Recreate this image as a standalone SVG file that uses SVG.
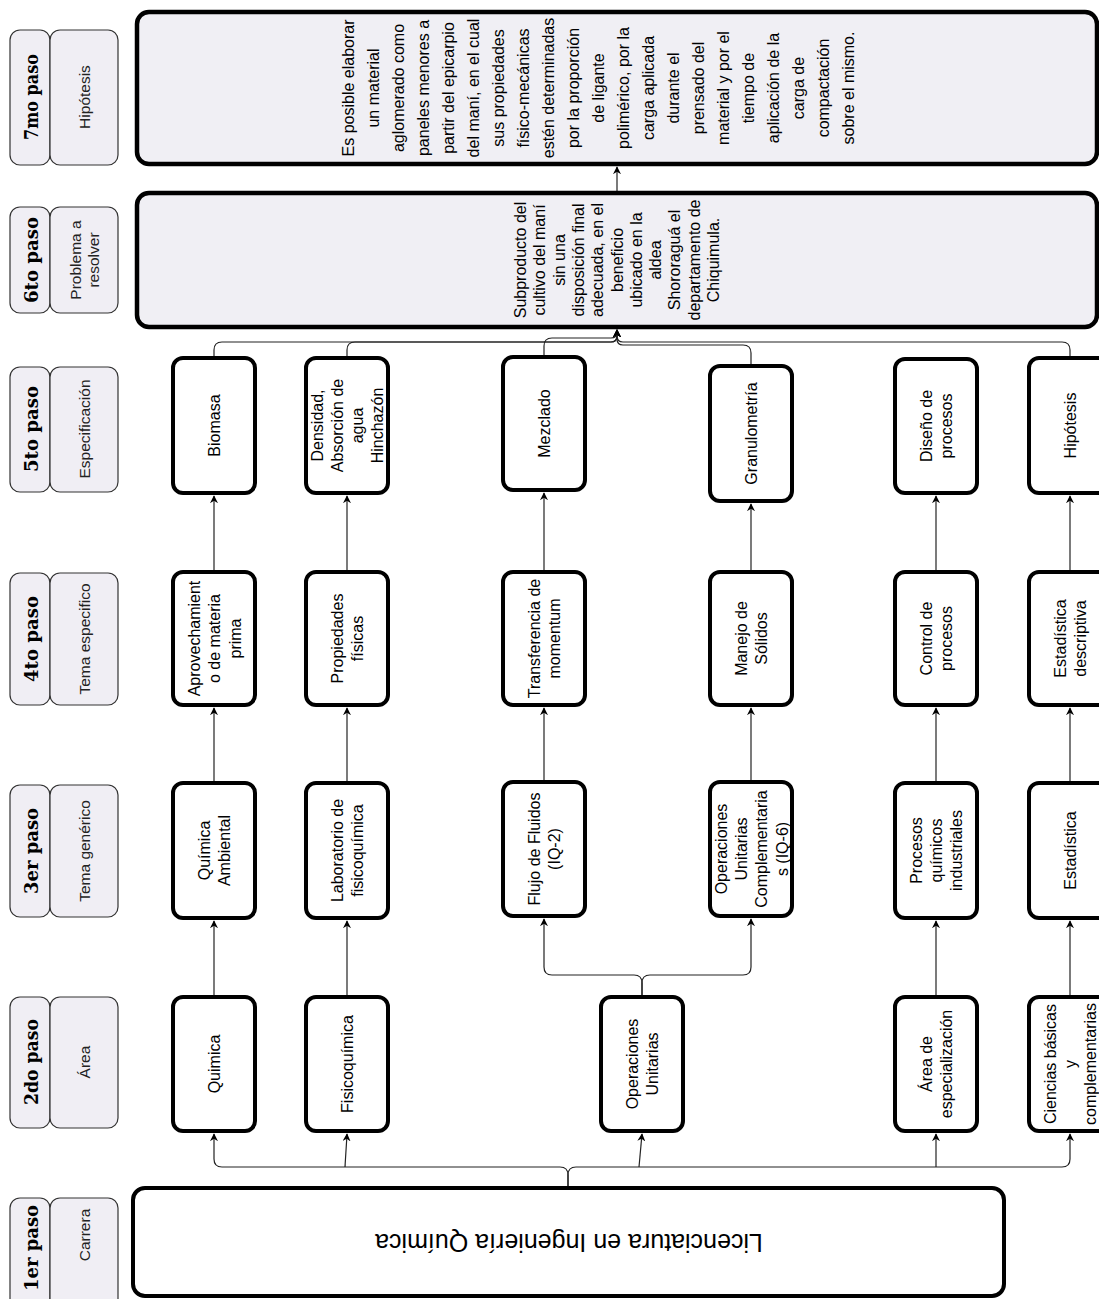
<svg xmlns="http://www.w3.org/2000/svg" width="1099" height="1299" viewBox="0 0 1099 1299">
<defs>
<marker id="arr" viewBox="0 0 10 10" refX="9" refY="5" markerWidth="8" markerHeight="8" markerUnits="userSpaceOnUse" orient="auto">
<path d="M0,0 L10,5 L0,10 L3,5 z" fill="#000"/>
</marker>
<style>
.node{fill:#fff;stroke:#000;stroke-width:4}
.big{fill:#f0eff4;stroke:#000;stroke-width:4.5}
.lab{fill:#f0eef4;stroke:#333;stroke-width:1.2}
.t{font-family:"Liberation Sans",Arial,sans-serif;font-size:16px;fill:#000;text-anchor:middle;dominant-baseline:central}
.lt{font-family:"Liberation Sans",Arial,sans-serif;font-size:15.5px;fill:#222;text-anchor:middle;dominant-baseline:central}
.st{font-family:"DejaVu Serif",serif;font-weight:bold;font-size:19px;fill:#000;text-anchor:middle;dominant-baseline:central}
.c{fill:none;stroke:#222;stroke-width:1.2}
.ca{fill:none;stroke:#222;stroke-width:1.2;marker-end:url(#arr)}
</style>
</defs>
<rect width="1099" height="1299" fill="#fff"/>

<!-- step labels -->
<g id="step7"><rect class="lab" x="10" y="30" width="40" height="135" rx="10"/><rect class="lab" x="50" y="30" width="68" height="135" rx="10"/>
<text class="st" textLength="86" lengthAdjust="spacingAndGlyphs" transform="translate(31 97) rotate(-90)">7mo paso</text><text class="lt" transform="translate(84 97) rotate(-90)">Hipótesis</text></g>
<g id="step6"><rect class="lab" x="10" y="207" width="40" height="106" rx="10"/><rect class="lab" x="50" y="207" width="68" height="106" rx="10"/>
<text class="st" textLength="86" lengthAdjust="spacingAndGlyphs" transform="translate(31 260) rotate(-90)">6to paso</text><text class="lt" transform="translate(84 260) rotate(-90)"><tspan x="0" y="-9">Problema a</tspan><tspan x="0" y="9">resolver</tspan></text></g>
<g id="step5"><rect class="lab" x="10" y="367" width="40" height="125" rx="10"/><rect class="lab" x="50" y="367" width="68" height="125" rx="10"/>
<text class="st" textLength="86" lengthAdjust="spacingAndGlyphs" transform="translate(31 429) rotate(-90)">5to paso</text><text class="lt" transform="translate(84 429) rotate(-90)">Especificación</text></g>
<g id="step4"><rect class="lab" x="10" y="573" width="40" height="132" rx="10"/><rect class="lab" x="50" y="573" width="68" height="132" rx="10"/>
<text class="st" textLength="86" lengthAdjust="spacingAndGlyphs" transform="translate(31 639) rotate(-90)">4to paso</text><text class="lt" transform="translate(84 639) rotate(-90)">Tema especifico</text></g>
<g id="step3"><rect class="lab" x="10" y="785" width="40" height="132" rx="10"/><rect class="lab" x="50" y="785" width="68" height="132" rx="10"/>
<text class="st" textLength="86" lengthAdjust="spacingAndGlyphs" transform="translate(31 851) rotate(-90)">3er paso</text><text class="lt" transform="translate(84 851) rotate(-90)">Tema genérico</text></g>
<g id="step2"><rect class="lab" x="10" y="997" width="40" height="131" rx="10"/><rect class="lab" x="50" y="997" width="68" height="131" rx="10"/>
<text class="st" textLength="86" lengthAdjust="spacingAndGlyphs" transform="translate(31 1062) rotate(-90)">2do paso</text><text class="lt" transform="translate(84 1062) rotate(-90)">Área</text></g>
<g id="step1"><rect class="lab" x="10" y="1198" width="40" height="115" rx="10"/><rect class="lab" x="50" y="1198" width="68" height="115" rx="10"/>
<text class="st" textLength="86" lengthAdjust="spacingAndGlyphs" transform="translate(31 1248) rotate(-90)">1er paso</text><text class="lt" transform="translate(84 1235) rotate(-90)">Carrera</text></g>

<!-- connectors -->
<g id="connectors">
<path class="ca" d="M568 1186 L568 1175 Q568 1167 560 1167 L222 1167 Q214 1167 214 1159 L214 1134"/>
<path class="ca" d="M568 1186 L568 1175 Q568 1167 576 1167 L1062 1167 Q1070 1167 1070 1159 L1070 1134"/>
<path class="ca" d="M345 1167 L347 1134"/>
<path class="ca" d="M639 1167 L642 1134"/>
<path class="ca" d="M936 1167 L936 1134"/>
<path class="ca" d="M214 995 L214 921"/>
<path class="ca" d="M347 995 L347 921"/>
<path class="ca" d="M642 995 L642 983 Q642 975 634 975 L552 975 Q544 975 544 967 L544 919"/>
<path class="ca" d="M642 995 L642 983 Q642 975 650 975 L743 975 Q751 975 751 967 L751 919"/>
<path class="ca" d="M936 995 L936 921"/>
<path class="ca" d="M1070 995 L1070 921"/>
<path class="ca" d="M214 781 L214 708"/>
<path class="ca" d="M347 781 L347 708"/>
<path class="ca" d="M544 780 L544 708"/>
<path class="ca" d="M751 780 L751 708"/>
<path class="ca" d="M936 781 L936 708"/>
<path class="ca" d="M1070 781 L1070 708"/>
<path class="ca" d="M214 570 L214 496"/>
<path class="ca" d="M347 570 L347 496"/>
<path class="ca" d="M544 570 L544 493"/>
<path class="ca" d="M751 570 L751 504"/>
<path class="ca" d="M936 570 L936 496"/>
<path class="ca" d="M1070 570 L1070 496"/>
<path class="ca" d="M214 356 L214 350 Q214 342 222 342 L611 342 Q617 342 617 336 L617 330"/>
<path class="ca" d="M347 356 L347 350 Q347 342 355 342 L611 342 Q617 342 617 336 L617 330"/>
<path class="ca" d="M544 355 L544 346 Q544 338 552 338 L611 338 Q617 338 617 332 L617 330"/>
<path class="ca" d="M751 364 L751 353 Q751 345 743 345 L623 345 Q617 345 617 339 L617 330"/>
<path class="ca" d="M1070 356 L1070 350 Q1070 342 1062 342 L623 342 Q617 342 617 336 L617 330"/>
<path class="ca" d="M617 191 L617 167"/>
</g>

<!-- big boxes -->
<g id="hipotesis"><rect class="big" x="137" y="12" width="960" height="152" rx="12"/>
<text class="t" transform="translate(598 88) rotate(-90)">
<tspan x="0" y="-250">Es posible elaborar</tspan><tspan x="0" y="-225">un material</tspan><tspan x="0" y="-200">aglomerado como</tspan><tspan x="0" y="-175">paneles menores a</tspan><tspan x="0" y="-150">partir del epicarpio</tspan><tspan x="0" y="-125">del maní, en el cual</tspan><tspan x="0" y="-100">sus propiedades</tspan><tspan x="0" y="-75">físico-mecánicas</tspan><tspan x="0" y="-50">estén determinadas</tspan><tspan x="0" y="-25">por la proporción</tspan><tspan x="0" y="0">de ligante</tspan><tspan x="0" y="25">polimérico, por la</tspan><tspan x="0" y="50">carga aplicada</tspan><tspan x="0" y="75">durante el</tspan><tspan x="0" y="100">prensado del</tspan><tspan x="0" y="125">material y por el</tspan><tspan x="0" y="150">tiempo de</tspan><tspan x="0" y="175">aplicación de la</tspan><tspan x="0" y="200">carga de</tspan><tspan x="0" y="225">compactación</tspan><tspan x="0" y="250">sobre el mismo.</tspan>
</text></g>
<g id="problema"><rect class="big" x="137" y="193" width="960" height="134" rx="12"/>
<text class="t" transform="translate(616.5 260) rotate(-90)">
<tspan x="0" y="-96.5">Subproducto del</tspan><tspan x="0" y="-77.2">cultivo del maní</tspan><tspan x="0" y="-57.9">sin una</tspan><tspan x="0" y="-38.6">disposición final</tspan><tspan x="0" y="-19.3">adecuada, en el</tspan><tspan x="0" y="0">beneficio</tspan><tspan x="0" y="19.3">ubicado en la</tspan><tspan x="0" y="38.6">aldea</tspan><tspan x="0" y="57.9">Shororaguá el</tspan><tspan x="0" y="77.2">departamento de</tspan><tspan x="0" y="96.5">Chiquimula.</tspan>
</text></g>
<g id="carrera"><rect class="node" x="133" y="1188" width="871" height="108" rx="12"/>
<text class="t" style="font-size:25px" transform="translate(569 1243) rotate(180)">Licenciatura en Ingeniería Química</text></g>

<!-- 5to paso -->
<g id="biomasa"><rect class="node" x="173" y="358" width="82" height="135" rx="10"/><text class="t" transform="translate(214 425.5) rotate(-90)">Biomasa</text></g>
<g id="densidad"><rect class="node" x="306" y="358" width="82" height="135" rx="10"/><text class="t" transform="translate(347 425.5) rotate(-90)"><tspan x="0" y="-30">Densidad,</tspan><tspan x="0" y="-10">Absorción de</tspan><tspan x="0" y="10">agua</tspan><tspan x="0" y="30">Hinchazón</tspan></text></g>
<g id="mezclado"><rect class="node" x="503" y="357" width="82" height="133" rx="10"/><text class="t" transform="translate(544 423.5) rotate(-90)">Mezclado</text></g>
<g id="granulometria"><rect class="node" x="710" y="366" width="82" height="135" rx="10"/><text class="t" transform="translate(751 433.5) rotate(-90)">Granulometría</text></g>
<g id="diseno"><rect class="node" x="895" y="359" width="82" height="134" rx="10"/><text class="t" transform="translate(936 426) rotate(-90)"><tspan x="0" y="-10">Diseño de</tspan><tspan x="0" y="10">procesos</tspan></text></g>
<g id="hipotesis5"><rect class="node" x="1029" y="358" width="82" height="135" rx="10"/><text class="t" transform="translate(1070 425.5) rotate(-90)">Hipótesis</text></g>

<!-- 4to paso -->
<g id="aprovechamiento"><rect class="node" x="173" y="572" width="82" height="133" rx="10"/><text class="t" transform="translate(214 638.5) rotate(-90)"><tspan x="0" y="-20.5">Aprovechamient</tspan><tspan x="0" y="0">o de materia</tspan><tspan x="0" y="20.5">prima</tspan></text></g>
<g id="propiedades"><rect class="node" x="306" y="572" width="82" height="133" rx="10"/><text class="t" transform="translate(347 638.5) rotate(-90)"><tspan x="0" y="-10">Propiedades</tspan><tspan x="0" y="10">físicas</tspan></text></g>
<g id="transferencia"><rect class="node" x="503" y="572" width="82" height="133" rx="10"/><text class="t" transform="translate(544 638.5) rotate(-90)"><tspan x="0" y="-10">Transferencia de</tspan><tspan x="0" y="10">momentum</tspan></text></g>
<g id="manejo"><rect class="node" x="710" y="572" width="82" height="133" rx="10"/><text class="t" transform="translate(751 638.5) rotate(-90)"><tspan x="0" y="-10">Manejo de</tspan><tspan x="0" y="10">Sólidos</tspan></text></g>
<g id="control"><rect class="node" x="895" y="572" width="82" height="133" rx="10"/><text class="t" transform="translate(936 638.5) rotate(-90)"><tspan x="0" y="-10">Control de</tspan><tspan x="0" y="10">procesos</tspan></text></g>
<g id="estdesc"><rect class="node" x="1029" y="572" width="82" height="133" rx="10"/><text class="t" transform="translate(1070 638.5) rotate(-90)"><tspan x="0" y="-10">Estadística</tspan><tspan x="0" y="10">descriptiva</tspan></text></g>

<!-- 3er paso -->
<g id="quimamb"><rect class="node" x="173" y="783" width="82" height="135" rx="10"/><text class="t" transform="translate(214 850.5) rotate(-90)"><tspan x="0" y="-10">Química</tspan><tspan x="0" y="10">Ambiental</tspan></text></g>
<g id="laboratorio"><rect class="node" x="306" y="783" width="82" height="135" rx="10"/><text class="t" transform="translate(347 850.5) rotate(-90)"><tspan x="0" y="-10">Laboratorio de</tspan><tspan x="0" y="10">fisicoquímica</tspan></text></g>
<g id="flujo"><rect class="node" x="503" y="782" width="82" height="134" rx="10"/><text class="t" transform="translate(544 849) rotate(-90)"><tspan x="0" y="-10">Flujo de Fluidos</tspan><tspan x="0" y="10">(IQ-2)</tspan></text></g>
<g id="ouc"><rect class="node" x="710" y="782" width="82" height="134" rx="10"/><text class="t" transform="translate(751 849) rotate(-90)"><tspan x="0" y="-30.5">Operaciones</tspan><tspan x="0" y="-10.2">Unitarias</tspan><tspan x="0" y="10.2">Complementaria</tspan><tspan x="0" y="30.5">s (IQ-6)</tspan></text></g>
<g id="procesos"><rect class="node" x="895" y="783" width="82" height="135" rx="10"/><text class="t" transform="translate(936 850.5) rotate(-90)"><tspan x="0" y="-20">Procesos</tspan><tspan x="0" y="0">químicos</tspan><tspan x="0" y="20">industriales</tspan></text></g>
<g id="estadistica"><rect class="node" x="1029" y="783" width="82" height="135" rx="10"/><text class="t" transform="translate(1070 850.5) rotate(-90)">Estadística</text></g>

<!-- 2do paso -->
<g id="quimica"><rect class="node" x="173" y="997" width="82" height="134" rx="10"/><text class="t" transform="translate(214 1064) rotate(-90)">Quimica</text></g>
<g id="fisicoquimica"><rect class="node" x="306" y="997" width="82" height="134" rx="10"/><text class="t" transform="translate(347 1064) rotate(-90)">Fisicoquímica</text></g>
<g id="opunit"><rect class="node" x="601" y="997" width="82" height="134" rx="10"/><text class="t" transform="translate(642 1064) rotate(-90)"><tspan x="0" y="-10">Operaciones</tspan><tspan x="0" y="10">Unitarias</tspan></text></g>
<g id="area"><rect class="node" x="895" y="997" width="82" height="134" rx="10"/><text class="t" transform="translate(936 1064) rotate(-90)"><tspan x="0" y="-10">Área de</tspan><tspan x="0" y="10">especialización</tspan></text></g>
<g id="ciencias"><rect class="node" x="1029" y="997" width="82" height="134" rx="10"/><text class="t" transform="translate(1070 1064) rotate(-90)"><tspan x="0" y="-20">Ciencias básicas</tspan><tspan x="0" y="0">y</tspan><tspan x="0" y="20">complementarias</tspan></text></g>
</svg>
